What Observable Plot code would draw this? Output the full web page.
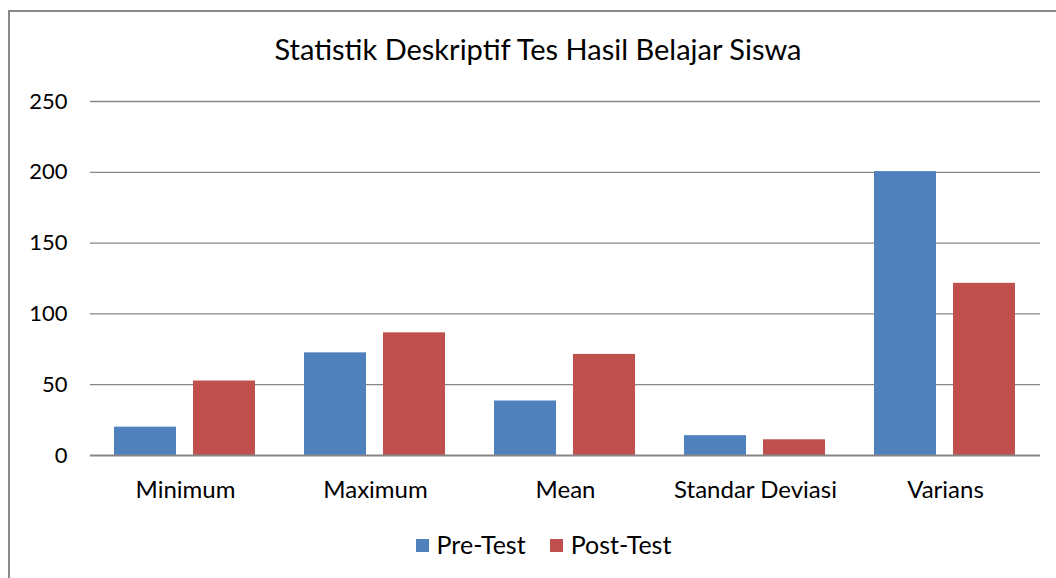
<!DOCTYPE html>
<html>
<head>
<meta charset="utf-8">
<script src="https://cdn.jsdelivr.net/npm/d3@7"></script>
<script src="https://cdn.jsdelivr.net/npm/@observablehq/plot@0.6"></script>
<style>
  html, body { margin: 0; padding: 0; background: #fff; overflow: hidden; width: 1056px; height: 578px; }
  #frame { position: absolute; left: 8px; top: 10px; width: 1200px; height: 800px; border-left: 2px solid #8a8a8a; border-top: 2px solid #8a8a8a; }
  #title { position: absolute; left: 0; width: 1076px; top: 31px; text-align: center; font-family: Lato, sans-serif; font-size: 29px; color: #000; white-space: nowrap; }
  #chart { position: absolute; left: 0; top: 0; }
  #legend { position: absolute; left: 0; width: 1087px; top: 529px; text-align: center; font-family: Lato, sans-serif; font-size: 25px; color: #000; white-space: nowrap; }
  .sw { display: inline-block; width: 13px; height: 13px; margin-right: 8px; vertical-align: 2px; }
  .item { display: inline-block; margin: 0 12px; }
</style>
</head>
<body>
<div id="frame"></div>
<div id="title">Statistik Deskriptif Tes Hasil Belajar Siswa</div>
<div id="chart"></div>
<div id="legend"></div>
<script>
const categories = ["Minimum", "Maximum", "Mean", "Standar Deviasi", "Varians"];
const seriesNames = ["Pre-Test", "Post-Test"];
const preTest = [20, 72.5, 38.5, 14, 200.5];
const postTest = [52.6, 86.6, 71.4, 11.1, 121.6];
const yTicks = [0, 50, 100, 150, 200, 250];
const colors = ["#4F81BD", "#C0504D"];

const data = [];
categories.forEach((c, i) => {
  data.push({category: c, series: seriesNames[0], value: preTest[i]});
  data.push({category: c, series: seriesNames[1], value: postTest[i]});
});

const chart = Plot.plot({
  width: 1056,
  height: 512,
  marginLeft: 90,
  marginRight: 16,
  marginTop: 101,
  marginBottom: 57,
  style: {fontFamily: "Lato, sans-serif", fontSize: "24px", color: "#000", background: "transparent", overflow: "visible"},
  fx: {domain: categories, padding: 0, label: null, tickSize: 0, tickPadding: 25},
  x: {domain: seriesNames, axis: null, paddingInner: 0.209, paddingOuter: 0.298},
  y: {domain: [0, 250], ticks: yTicks, label: null, tickSize: 0, tickPadding: 23},
  color: {domain: seriesNames, range: colors},
  marks: [
    Plot.ruleY(yTicks.filter(d => d > 0), {stroke: "#868686", strokeWidth: 1.3, strokeOpacity: 1}),
    Plot.barY(data, {fx: "category", x: "series", y: "value", fill: "series"}),
    Plot.ruleY([0], {stroke: "#868686", strokeWidth: 2, strokeOpacity: 1})
  ]
});
chart.querySelectorAll("[aria-label='y-axis tick label']").forEach(g => g.setAttribute("font-size", "22"));
document.getElementById("chart").appendChild(chart);

const legend = document.getElementById("legend");
seriesNames.forEach((s, i) => {
  const item = document.createElement("span");
  item.className = "item";
  const sw = document.createElement("span");
  sw.className = "sw";
  sw.style.background = colors[i];
  item.appendChild(sw);
  item.appendChild(document.createTextNode(s));
  legend.appendChild(item);
});
</script>
</body>
</html>
